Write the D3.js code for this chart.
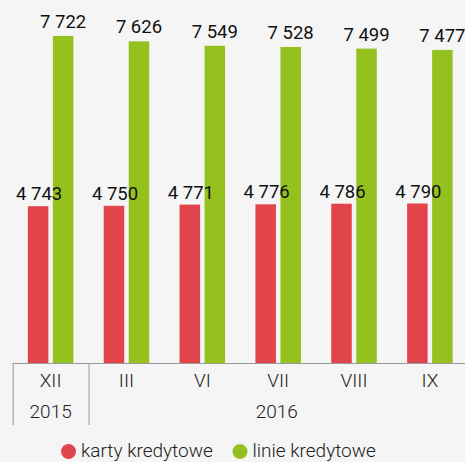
<!DOCTYPE html>
<html><head><meta charset="utf-8">
<script src="https://cdn.jsdelivr.net/npm/d3@7"></script>
<style>
html,body{margin:0;padding:0;background:#f5f5f5;}
svg{display:block;font-family:Roboto, "Open Sans", sans-serif;}
</style></head>
<body>
<svg id="chart" width="465" height="462"></svg>
<script>
const months = ["XII","III","VI","VII","VIII","IX"];
const years = [{label:"2015", from:0, to:0},{label:"2016", from:1, to:5}];
const seriesNames = ["karty kredytowe","linie kredytowe"];
const karty = [4743,4750,4771,4776,4786,4790];
const linie = [7722,7626,7549,7528,7499,7477];
const colors = ["#e2444b","#95c11f"];

const svg = d3.select("#chart");
const x0 = d3.scaleBand().domain(months).range([12.7,467.8]).paddingInner(0.4).paddingOuter(0.2);
const x1 = d3.scaleBand().domain([0,1]).range([0,x0.bandwidth()]).paddingInner(0.18);
const y = d3.scaleLinear().domain([2000,8000]).range([363,20]);
const fmt = v => d3.format(",")(v).replace(",", " ");

const data = months.map((m,i)=>({m, vals:[karty[i], linie[i]]}));
const g = svg.append("g");
const groups = g.selectAll("g.grp").data(data).join("g").attr("transform", d=>`translate(${x0(d.m)},0)`);
groups.selectAll("rect").data(d=>d.vals.map((v,k)=>({v,k}))).join("rect")
  .attr("x", d=>x1(d.k)).attr("width", x1.bandwidth())
  .attr("y", d=>y(d.v)).attr("height", d=>y(2000)-y(d.v))
  .attr("fill", d=>colors[d.k]);
groups.selectAll("text").data(d=>d.vals.map((v,k)=>({v,k}))).join("text")
  .attr("x", d=>x1(d.k)+x1.bandwidth()/2 + (d.k===0?1:0))
  .attr("y", d=>y(d.v) - (d.k===0?6:8))
  .attr("text-anchor","middle").attr("font-size",18.5).attr("fill","#111")
  .text(d=>fmt(d.v));

// axis
const step = x0.step();
const left = x0.range()[0];
svg.append("line").attr("x1",left).attr("x2",465).attr("y1",y(2000)+0.5).attr("y2",y(2000)+0.5).attr("stroke","#999");
[0,1].forEach(i=>{
  const xx = left + i*step;
  svg.append("line").attr("x1",xx+0.5).attr("x2",xx+0.5).attr("y1",y(2000)).attr("y2",425).attr("stroke","#999");
});
svg.selectAll("text.month").data(months).join("text").attr("class","month")
  .attr("x", m=>x0(m)+x0.bandwidth()/2).attr("y",387)
  .attr("text-anchor","middle").attr("font-size",19).attr("font-weight",300).attr("fill","#222").text(m=>m);
svg.selectAll("text.year").data(years).join("text").attr("class","year")
  .attr("x", d=>(left + d.from*step + Math.min(left+(d.to+1)*step,465))/2).attr("y",418)
  .attr("text-anchor","middle").attr("font-size",19).attr("font-weight",300).attr("fill","#222").text(d=>d.label);

// legend
const leg = [{x:68.5},{x:240}];
seriesNames.forEach((n,i)=>{
  svg.append("circle").attr("cx",leg[i].x).attr("cy",451.5).attr("r",7.5).attr("fill",colors[i]);
  svg.append("text").attr("x",leg[i].x+12.5).attr("y",457).attr("font-size",19).attr("font-weight",300).attr("fill","#222").text(n);
});
</script>
</body></html>
